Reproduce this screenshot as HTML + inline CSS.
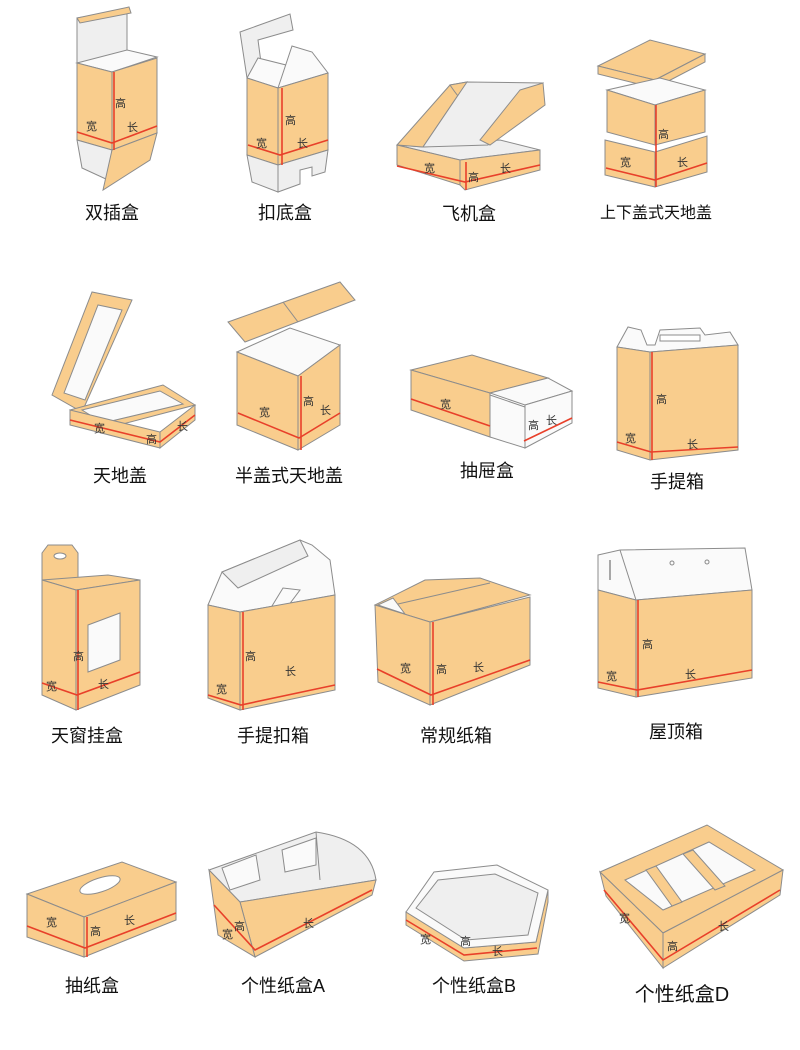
<!DOCTYPE html>
<html><head><meta charset="utf-8"><style>
html,body{margin:0;padding:0;background:#fff}
svg{display:block}
.o{fill:#f9cd8d;stroke:#8c8c8c;stroke-width:1}
.g{fill:#efefef;stroke:#8c8c8c;stroke-width:1}
.w{fill:#fafafa;stroke:#8c8c8c;stroke-width:1}
.r{fill:none;stroke:#e8402a;stroke-width:1.6}
.s{font-family:"Liberation Sans","Noto Sans CJK SC",sans-serif;font-size:11px;fill:#333}
.l{font-family:"Liberation Sans","Noto Sans CJK SC",sans-serif;font-size:18px;fill:#111;text-anchor:middle}
</style></head><body>
<svg width="800" height="1050" viewBox="0 0 800 1050" xmlns="http://www.w3.org/2000/svg">
<!-- 1 双插盒 -->
<polygon class="g" points="77,18 127,10 127,54 77,63"/>
<polygon class="o" points="77,18 129,7 131,13 80,23"/>
<polygon class="w" points="77,63 127,50 157,57 112,72"/>
<polygon class="o" points="77,63 112,72 112,150 77,140"/>
<polygon class="o" points="112,72 157,58 157,133 112,150"/>
<polygon class="g" points="77,140 112,150 108,180 82,168"/>
<polygon class="o" points="112,150 157,133 150,160 103,190"/>
<polyline class="r" points="77,132 112,143 157,126"/><line class="r" x1="114" y1="72" x2="114" y2="150"/>
<text class="s" x="115" y="107">高</text><text class="s" x="86" y="130">宽</text><text class="s" x="127" y="131">长</text>
<text class="l" x="112" y="219">双插盒</text>
<!-- 2 扣底盒 -->
<polygon class="g" points="240,32 290,14 293,30 258,40 262,70 247,78"/>
<polygon class="w" points="247,78 258,58 290,66 278,88"/>
<polygon class="w" points="278,88 292,46 312,52 328,73"/>
<polygon class="o" points="247,78 278,88 278,165 247,155"/>
<polygon class="o" points="278,88 328,73 328,150 278,165"/>
<polygon class="g" points="247,155 278,165 278,192 252,182"/>
<polygon class="g" points="278,165 328,150 325,172 312,176 312,167 300,170 300,184 278,192"/>
<polyline class="r" points="248,145 280,155 328,140"/><line class="r" x1="282" y1="88" x2="282" y2="165"/>
<text class="s" x="285" y="124">高</text><text class="s" x="256" y="147">宽</text><text class="s" x="297" y="147">长</text>
<text class="l" x="285" y="219">扣底盒</text>
<!-- 3 飞机盒 -->
<polygon class="g" points="397,145 460,160 540,150 500,140 423,147"/>
<polygon class="o" points="397,145 450,85 467,82 423,147"/>
<path class="o" d="M450,85 Q460,100 467,105 L467,82 Z"/>
<polygon class="g" points="423,147 467,82 543,83 488,145"/>
<polygon class="o" points="520,90 543,83 545,105 490,145 480,140"/>
<polygon class="o" points="397,145 460,160 460,185 397,165"/>
<polygon class="o" points="460,160 540,150 540,170 465,190 460,185"/>
<polyline class="r" points="397,166 465,182 540,165"/><line class="r" x1="466" y1="162" x2="466" y2="190"/>
<text class="s" x="424" y="172">宽</text><text class="s" x="468" y="181">高</text><text class="s" x="500" y="172">长</text>
<text class="l" x="469" y="220">飞机盒</text>
<!-- 4 上下盖式天地盖 -->
<polygon class="o" points="598,66 650,40 705,54 655,80"/>
<polygon class="o" points="598,66 655,80 655,88 598,74"/>
<polygon class="o" points="655,80 705,54 705,62 655,88"/>
<polygon class="w" points="607,90 660,78 705,90 655,105"/>
<polygon class="o" points="607,90 655,105 655,145 607,132"/>
<polygon class="o" points="655,105 705,90 705,132 655,145"/>
<polygon class="o" points="605,140 655,152 655,187 605,175"/>
<polygon class="o" points="655,152 707,136 707,172 655,187"/>
<polyline class="r" points="606,168 655,180 707,163"/><line class="r" x1="656" y1="105" x2="656" y2="187"/>
<text class="s" x="658" y="138">高</text><text class="s" x="620" y="166">宽</text><text class="s" x="677" y="166">长</text>
<text class="l" x="656" y="218" style="font-size:16px">上下盖式天地盖</text>
<!-- 5 天地盖 -->
<polygon class="o" points="52,395 92,292 132,300 82,412"/>
<polygon class="w" points="64,393 98,305 122,310 85,400"/>
<polygon class="o" points="70,410 163,385 195,405 100,430"/>
<polygon class="w" points="82,410 160,391 183,404 103,423"/>
<polygon class="o" points="70,410 160,432 160,448 70,425"/>
<polygon class="o" points="160,432 195,405 195,420 160,448"/>
<polyline class="r" points="70,420 160,442 195,415"/>
<text class="s" x="94" y="432">宽</text><text class="s" x="146" y="443">高</text><text class="s" x="177" y="430">长</text>
<text class="l" x="120" y="482">天地盖</text>
<!-- 6 半盖式天地盖 -->
<polygon class="o" points="228,322 340,282 355,300 245,342"/>
<line x1="283" y1="302" x2="298" y2="322" stroke="#8c8c8c"/>
<polygon class="w" points="237,352 290,328 340,345 298,376"/>
<polygon class="o" points="237,352 298,376 298,450 237,425"/>
<polygon class="o" points="298,376 340,345 340,425 298,450"/>
<polyline class="r" points="238,413 299,438 340,413"/><line class="r" x1="301" y1="376" x2="301" y2="450"/>
<text class="s" x="259" y="416">宽</text><text class="s" x="303" y="405">高</text><text class="s" x="320" y="414">长</text>
<text class="l" x="289" y="482">半盖式天地盖</text>
<!-- 7 抽屉盒 -->
<polygon class="o" points="411,370 472,355 548,378 490,393"/>
<polygon class="o" points="411,370 490,393 490,437 411,410"/>
<polygon class="w" points="490,393 548,378 572,391 525,405"/>
<polygon class="w" points="490,395 525,407 525,448 490,437"/>
<polygon class="w" points="525,405 572,391 572,423 525,448"/>
<polyline class="r" points="411,399 490,426"/><polyline class="r" points="524,441 572,418"/>
<text class="s" x="440" y="408">宽</text><text class="s" x="528" y="429">高</text><text class="s" x="546" y="424">长</text>
<text class="l" x="487" y="477">抽屉盒</text>
<!-- 8 手提箱 -->
<polygon class="w" points="617,347 628,327 641,330 647,345 655,345 660,330 700,328 705,335 730,332 738,345 650,352"/>
<rect x="660" y="335" width="40" height="6" fill="#fff" stroke="#8c8c8c"/>
<polygon class="o" points="617,347 650,352 650,460 617,450"/>
<polygon class="o" points="650,352 738,345 738,450 650,460"/>
<polyline class="r" points="617,442 651,452 738,447"/><line class="r" x1="652" y1="352" x2="652" y2="460"/>
<text class="s" x="656" y="403">高</text><text class="s" x="625" y="442">宽</text><text class="s" x="687" y="448">长</text>
<text class="l" x="677" y="488">手提箱</text>
<!-- 9 天窗挂盒 -->
<polygon class="o" points="42,553 48,545 72,545 78,553 78,588 42,580"/>
<ellipse cx="60" cy="556" rx="6" ry="3" fill="#fff" stroke="#8c8c8c"/>
<polygon class="o" points="42,580 76,590 140,580 108,575"/>
<polygon class="o" points="42,580 76,590 76,710 42,695"/>
<polygon class="o" points="76,590 140,580 140,685 76,710"/>
<polygon class="w" points="88,625 120,613 120,660 88,672"/>
<polyline class="r" points="42,683 77,695 140,672"/><line class="r" x1="78" y1="590" x2="78" y2="710"/>
<text class="s" x="73" y="660">高</text><text class="s" x="46" y="690">宽</text><text class="s" x="98" y="688">长</text>
<text class="l" x="87" y="742">天窗挂盒</text>
<!-- 10 手提扣箱 -->
<polygon class="w" points="208,605 222,572 300,540 312,545 330,560 335,595 240,612"/>
<polygon class="g" points="222,572 300,540 308,556 238,588"/>
<polygon class="w" points="272,606 283,588 300,590 288,606"/>
<polygon class="o" points="208,605 240,612 240,710 208,698"/>
<polygon class="o" points="240,612 335,595 335,690 240,710"/>
<polyline class="r" points="208,695 241,705 335,685"/><line class="r" x1="243" y1="612" x2="243" y2="710"/>
<text class="s" x="245" y="660">高</text><text class="s" x="216" y="693">宽</text><text class="s" x="285" y="675">长</text>
<text class="l" x="273" y="742">手提扣箱</text>
<!-- 11 常规纸箱 -->
<polygon class="o" points="375,605 425,580 480,578 530,595 430,622"/>
<line x1="398" y1="604" x2="490" y2="583" stroke="#8c8c8c"/>
<polygon class="w" points="378,605 393,598 405,614"/>
<polygon class="o" points="375,605 430,622 430,705 378,682"/>
<polygon class="o" points="430,622 530,597 530,665 430,705"/>
<polyline class="r" points="377,669 431,695 530,660"/><line class="r" x1="433" y1="622" x2="433" y2="705"/>
<text class="s" x="400" y="672">宽</text><text class="s" x="436" y="673">高</text><text class="s" x="473" y="671">长</text>
<text class="l" x="456" y="742">常规纸箱</text>
<!-- 12 屋顶箱 -->
<polygon class="w" points="598,555 620,550 745,548 752,590 636,600 598,590"/>
<line x1="620" y1="550" x2="636" y2="600" stroke="#8c8c8c"/>
<line x1="610" y1="560" x2="610" y2="580" stroke="#555"/>
<circle cx="672" cy="563" r="2" fill="none" stroke="#888"/><circle cx="707" cy="562" r="2" fill="none" stroke="#888"/>
<polygon class="o" points="598,590 636,600 636,697 598,688"/>
<polygon class="o" points="636,600 752,590 752,678 636,697"/>
<polyline class="r" points="598,682 637,690 752,670"/><line class="r" x1="638" y1="600" x2="638" y2="697"/>
<text class="s" x="642" y="648">高</text><text class="s" x="606" y="680">宽</text><text class="s" x="685" y="678">长</text>
<text class="l" x="676" y="738">屋顶箱</text>
<!-- 13 抽纸盒 -->
<polygon class="o" points="27,894 122,862 176,882 84,917"/>
<ellipse cx="100" cy="885" rx="21" ry="7" fill="#fff" stroke="#8c8c8c" transform="rotate(-18 100 885)"/>
<polygon class="o" points="27,894 84,917 84,957 27,937"/>
<polygon class="o" points="84,917 176,882 176,920 84,957"/>
<polyline class="r" points="27,926 85,948 176,913"/><line class="r" x1="87" y1="917" x2="87" y2="957"/>
<text class="s" x="46" y="926">宽</text><text class="s" x="90" y="935">高</text><text class="s" x="124" y="924">长</text>
<text class="l" x="92" y="992">抽纸盒</text>
<!-- 14 个性纸盒A -->
<path class="g" d="M209,870 L316,832 Q370,840 376,880 L240,902 Z"/>
<polygon class="w" points="222,868 256,855 260,880 230,890"/>
<polygon class="w" points="282,850 316,838 316,865 285,872"/>
<line x1="316" y1="832" x2="320" y2="880" stroke="#8c8c8c"/>
<polygon class="o" points="240,902 376,880 372,895 255,957"/>
<polygon class="o" points="209,870 240,902 255,957 218,935"/>
<polyline class="r" points="214,905 255,950 372,890"/>
<text class="s" x="234" y="930">高</text><text class="s" x="222" y="938">宽</text><text class="s" x="303" y="927">长</text>
<text class="l" x="283" y="992">个性纸盒A</text>
<!-- 15 个性纸盒B -->
<polygon class="o" points="406,912 464,948 536,942 548,890 548,902 538,954 464,961 406,925"/>
<polygon class="w" points="406,912 434,872 497,865 548,890 536,942 464,948"/>
<polygon class="g" points="416,908 438,880 495,874 538,893 528,935 466,940"/>
<polyline class="r" points="406,920 464,955 537,948"/>
<text class="s" x="420" y="943">宽</text><text class="s" x="460" y="945">高</text><text class="s" x="492" y="955">长</text>
<text class="l" x="474" y="992">个性纸盒B</text>
<!-- 16 个性纸盒D -->
<polygon class="o" points="600,872 707,825 783,870 663,933"/>
<polygon class="w" points="625,880 709,842 755,870 663,910"/>
<polygon class="o" points="646,870 656,866 682,902 672,906"/>
<polygon class="o" points="683,854 693,850 725,886 715,890"/>
<polygon class="o" points="600,872 663,933 663,968 606,896"/>
<polygon class="o" points="663,933 783,870 780,895 663,968"/>
<polyline class="r" points="604,890 663,960 780,890"/>
<text class="s" x="619" y="922">宽</text><text class="s" x="667" y="950">高</text><text class="s" x="718" y="930">长</text>
<text class="l" x="682" y="1001" style="font-size:20px">个性纸盒D</text>
</svg>
</body></html>
